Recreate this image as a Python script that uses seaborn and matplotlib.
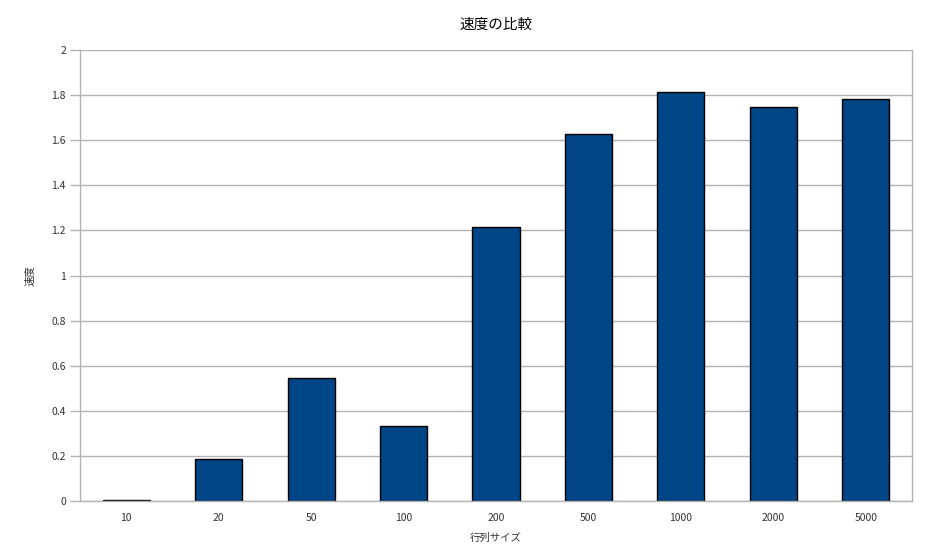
import matplotlib
matplotlib.use("Agg")
import matplotlib.pyplot as plt
import seaborn as sns
import pandas as pd

# data
sizes = ["10", "20", "50", "100", "200", "500", "1000", "2000", "5000"]
speed = [0.005, 0.186, 0.545, 0.333, 1.215, 1.627, 1.814, 1.747, 1.783]
y_ticks = [0, 0.2, 0.4, 0.6, 0.8, 1, 1.2, 1.4, 1.6, 1.8, 2]
y_tick_labels = ["0", "0.2", "0.4", "0.6", "0.8", "1", "1.2", "1.4", "1.6", "1.8", "2"]

sns.set_theme(style="white")
plt.rcParams['font.family'] = ['Noto Sans CJK JP', 'DejaVu Sans']

df = pd.DataFrame({"size": sizes, "speed": speed})

fig = plt.figure(figsize=(9.33, 5.55), dpi=100)
ax = fig.add_axes([0.0857, 0.0973, 0.8918, 0.8126])

ax.yaxis.grid(True, color="#b3b3b3", linewidth=1)
ax.set_axisbelow(True)
sns.barplot(data=df, x="size", y="speed", color="#004586", saturation=1,
            width=0.51, edgecolor="black", linewidth=1, ax=ax)

ax.set_ylim(0, 2)
ax.set_yticks(y_ticks)
ax.set_yticklabels(y_tick_labels)
ax.set_xlim(-0.5, len(sizes) - 0.5)

for s in ["left", "bottom", "right"]:
    ax.spines[s].set_color("#b3b3b3")
    ax.spines[s].set_linewidth(1)
ax.spines["top"].set_visible(False)

ax.tick_params(axis="y", which="both", left=True, length=7, width=1,
               color="#b3b3b3", labelsize=7.5, labelcolor="#333333", pad=3)
ax.tick_params(axis="x", bottom=False, labelsize=7.5, labelcolor="#333333", pad=3)

ax.set_title("速度の比較", fontsize=10.5, pad=15, color="black")
ax.set_xlabel("行列サイズ", fontsize=7.5, color="#333333")
ax.set_ylabel("速度", fontsize=7.5, color="#333333")
ax.xaxis.set_label_coords(0.5, -0.07)
ax.yaxis.set_label_coords(-0.053, 0.5)

fig.savefig("out.png", dpi=100)
